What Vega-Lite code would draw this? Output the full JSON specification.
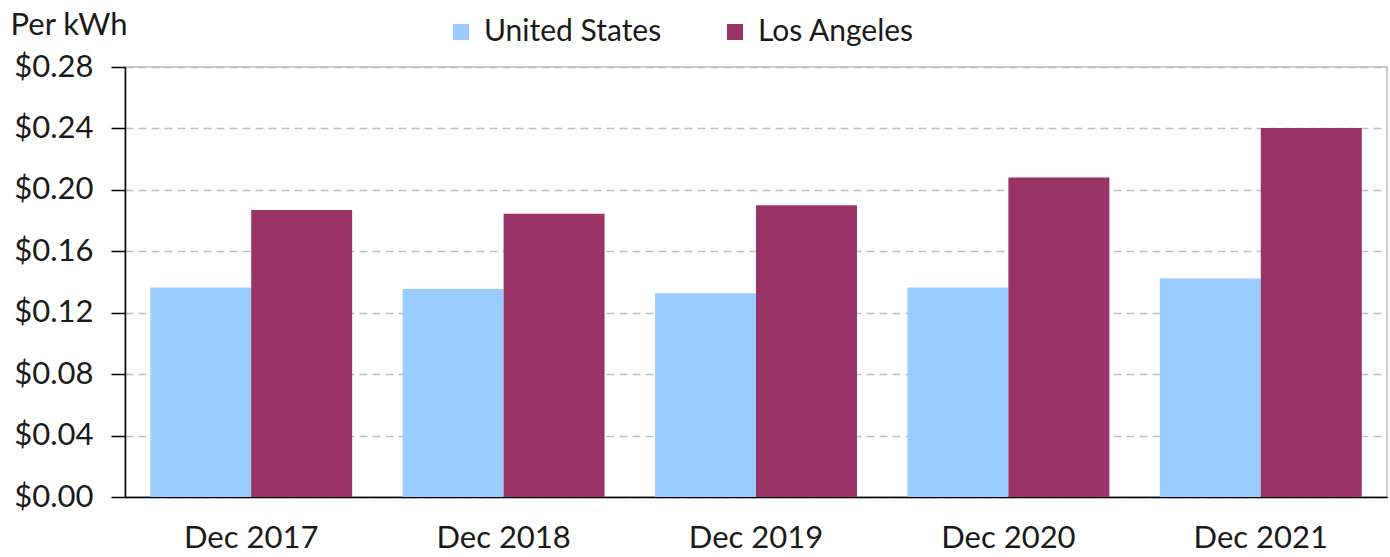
{
  "$schema": "https://vega.github.io/schema/vega-lite/v6.json",
  "width": 1262,
  "height": 430,
  "autosize": "none",
  "padding": {"left": 125, "top": 67, "right": 3, "bottom": 60},
  "background": "white",
  "config": {
    "font": "Lato",
    "view": {"stroke": "#bfbfbf", "strokeWidth": 1.5}
  },
  "data": {
    "values": [
      {"month": "Dec 2017", "area": "United States", "price": 0.1365},
      {"month": "Dec 2017", "area": "Los Angeles", "price": 0.1869},
      {"month": "Dec 2018", "area": "United States", "price": 0.1355},
      {"month": "Dec 2018", "area": "Los Angeles", "price": 0.1844},
      {"month": "Dec 2019", "area": "United States", "price": 0.1326},
      {"month": "Dec 2019", "area": "Los Angeles", "price": 0.190},
      {"month": "Dec 2020", "area": "United States", "price": 0.1365},
      {"month": "Dec 2020", "area": "Los Angeles", "price": 0.208},
      {"month": "Dec 2021", "area": "United States", "price": 0.1422},
      {"month": "Dec 2021", "area": "Los Angeles", "price": 0.2402}
    ]
  },
  "mark": {"type": "bar"},
  "encoding": {
    "x": {
      "field": "month",
      "type": "nominal",
      "scale": {"paddingInner": 0.2, "paddingOuter": 0.1},
      "axis": {
        "title": null,
        "labelAngle": 0,
        "ticks": false,
        "domainColor": "black",
        "domainWidth": 1.5,
        "labelFontSize": 31,
        "labelColor": "#1a1a1a",
        "labelPadding": 26,
        "labelBaseline": "top"
      }
    },
    "xOffset": {
      "field": "area",
      "type": "nominal",
      "sort": ["United States", "Los Angeles"],
      "scale": {"paddingInner": 0, "paddingOuter": 0}
    },
    "y": {
      "field": "price",
      "type": "quantitative",
      "scale": {"domain": [0, 0.28], "nice": false},
      "axis": {
        "values": [0, 0.04, 0.08, 0.12, 0.16, 0.2, 0.24, 0.28],
        "format": "$.2f",
        "title": "Per kWh",
        "titleAngle": 0,
        "titleAlign": "left",
        "titleBaseline": "alphabetic",
        "titleX": -115,
        "titleY": -33,
        "titleFontSize": 31,
        "titleFontWeight": "normal",
        "titleColor": "#1a1a1a",
        "labelFontSize": 31,
        "labelColor": "#1a1a1a",
        "labelPadding": 18,
        "tickSize": 14,
        "tickColor": "black",
        "tickWidth": 1.5,
        "domainColor": "black",
        "domainWidth": 1.5,
        "gridColor": "#bfbfbf",
        "gridDash": [8, 5],
        "gridWidth": 1.5
      }
    },
    "color": {
      "field": "area",
      "type": "nominal",
      "sort": ["United States", "Los Angeles"],
      "scale": {"domain": ["United States", "Los Angeles"], "range": ["#99CCFF", "#993366"]},
      "legend": {
        "title": null,
        "orient": "none",
        "direction": "horizontal",
        "legendX": 321,
        "legendY": -50,
        "symbolType": "square",
        "symbolSize": 256,
        "symbolStrokeWidth": 0,
        "labelFontSize": 30,
        "labelLimit": 400,
        "labelColor": "#1a1a1a",
        "labelOffset": 8,
        "columnPadding": 58
      }
    }
  }
}
